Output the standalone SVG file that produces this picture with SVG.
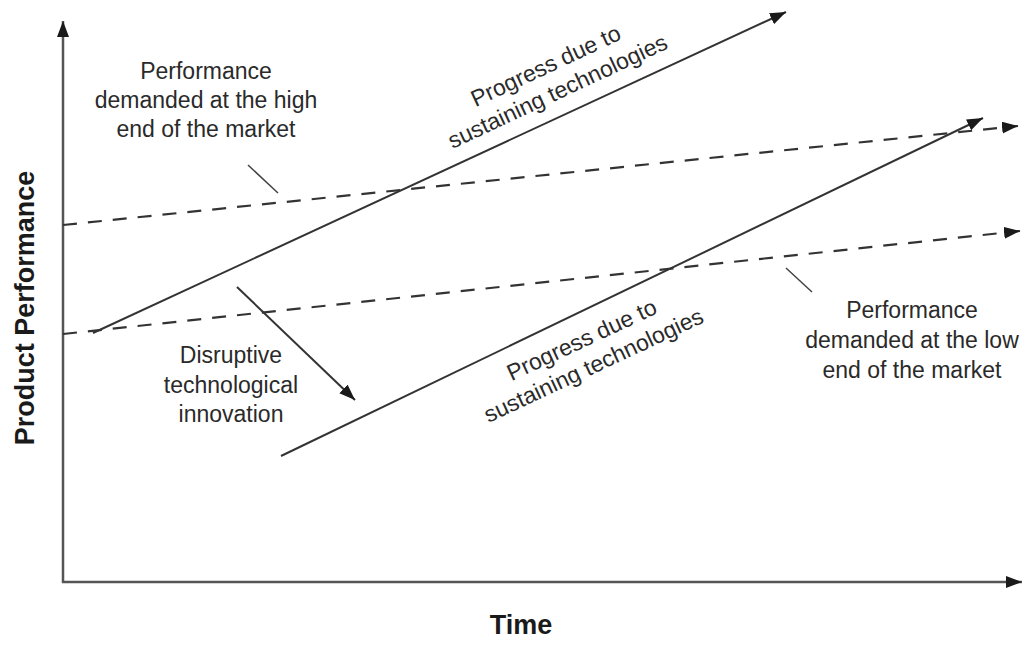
<svg xmlns="http://www.w3.org/2000/svg" width="1024" height="645" viewBox="0 0 1024 645">
<style>
.t{font-family:"Liberation Sans",Arial,sans-serif;font-size:23px;fill:#2a2a2a;text-anchor:middle}
.r{font-family:"Liberation Sans",Arial,sans-serif;font-size:23px;fill:#2a2a2a;text-anchor:middle}
.b{font-family:"Liberation Sans",Arial,sans-serif;font-size:27px;font-weight:bold;fill:#1a1a1a;text-anchor:middle}
.ax{stroke:#555;stroke-width:2.5;fill:none}
.s{stroke:#333;stroke-width:2;fill:none}
.d{stroke:#333;stroke-width:2.2;fill:none;stroke-dasharray:14 11}
.l{stroke:#444;stroke-width:1.5;fill:none}
</style>
<defs>
<marker id="ah" markerUnits="userSpaceOnUse" markerWidth="18" markerHeight="14" refX="16" refY="6" orient="auto">
<path d="M0,0 L16,6 L0,12 Z" fill="#1a1a1a"/>
</marker>
</defs>
<rect width="1024" height="645" fill="#fff"/>
<g id="axes">
<line class="ax" x1="63" y1="583" x2="63" y2="21" marker-end="url(#ah)"/>
<line class="ax" x1="62" y1="582" x2="1022" y2="582" marker-end="url(#ah)"/>
</g>
<g id="connectors">
<line class="d" x1="63" y1="225" x2="1018" y2="126" marker-end="url(#ah)"/>
<line class="d" x1="63" y1="334" x2="1020" y2="231" marker-end="url(#ah)"/>
<line class="s" x1="93" y1="333" x2="786" y2="12" marker-end="url(#ah)"/>
<line class="s" x1="281" y1="456" x2="983" y2="118" marker-end="url(#ah)"/>
<line class="s" x1="237" y1="287" x2="355" y2="400" marker-end="url(#ah)"/>
<line class="l" x1="248" y1="165" x2="278" y2="193"/>
<line class="l" x1="786" y1="268" x2="812" y2="292"/>
</g>
<g id="high-end-label">
<text class="t" x="206" y="79">Performance</text>
<text class="t" x="206" y="108">demanded at the high</text>
<text class="t" x="206" y="137">end of the market</text>
</g>
<g id="low-end-label">
<text class="t" x="912" y="318">Performance</text>
<text class="t" x="912" y="348">demanded at the low</text>
<text class="t" x="912" y="378">end of the market</text>
</g>
<g id="disruptive-label">
<text class="t" x="231" y="363">Disruptive</text>
<text class="t" x="231" y="393">technological</text>
<text class="t" x="231" y="422">innovation</text>
</g>
<g id="upper-progress-label" transform="translate(549,73) rotate(-25)">
<text class="r" x="0" y="0">Progress due to</text>
<text class="r" x="0" y="28">sustaining technologies</text>
</g>
<g id="lower-progress-label" transform="translate(585,347) rotate(-25)">
<text class="r" x="0" y="0">Progress due to</text>
<text class="r" x="0" y="28">sustaining technologies</text>
</g>
<g id="axis-labels">
<text class="b" x="521" y="634">Time</text>
<text class="b" transform="translate(34,308) rotate(-90)">Product Performance</text>
</g>
</svg>
